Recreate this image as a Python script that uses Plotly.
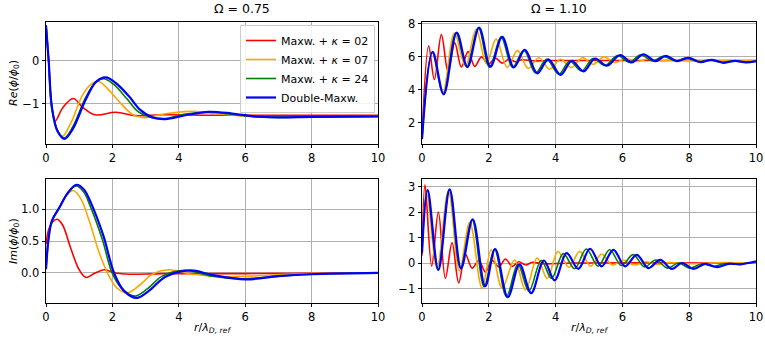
import plotly.graph_objects as go

# ---------------- DATA ----------------
series_names = ["Maxw. + <i>κ</i> = 02", "Maxw. + <i>κ</i> = 07",
                "Maxw. + <i>κ</i> = 24", "Double-Maxw."]
x_ticks = [0, 2, 4, 6, 8, 10]

# Re(phi/phi0), Omega = 0.75
re075_red_r = [0, 0.08, 0.16, 0.28, 0.5, 0.82, 1.1, 1.48, 2.1, 2.7, 3.5, 5, 7, 10]
re075_red_v = [0.82, 0.0, -1.0, -1.40, -1.1, -0.88, -1.08, -1.26, -1.2, -1.28, -1.26, -1.27, -1.27, -1.27]
re075_org_r = [0, 0.08, 0.17, 0.33, 0.50, 0.75, 1.1, 1.35, 1.58, 1.85, 2.2, 2.6, 2.95, 3.5, 4.3, 5.2, 6.2, 7, 10]
re075_org_v = [0.82, 0.0, -1.1, -1.6, -1.76, -1.45, -0.8, -0.55, -0.48, -0.65, -0.95, -1.25, -1.33, -1.25, -1.18, -1.24, -1.3, -1.31, -1.30]
re075_grn_r = [0, 0.08, 0.18, 0.35, 0.55, 0.8, 1.2, 1.5, 1.75, 2.05, 2.45, 2.8, 3.5, 4.2, 4.9, 5.6, 6.4, 7, 8, 10]
re075_grn_v = [0.82, 0.0, -1.1, -1.63, -1.80, -1.55, -0.85, -0.5, -0.42, -0.56, -0.9, -1.2, -1.35, -1.24, -1.2, -1.25, -1.31, -1.32, -1.31, -1.30]
re075_blu_r = [0, 0.08, 0.18, 0.35, 0.56, 0.8, 1.2, 1.5, 1.8, 2.1, 2.5, 2.83, 3.2, 3.6, 4.2, 4.9, 5.6, 6.3, 7, 8, 10]
re075_blu_v = [0.82, 0.0, -1.1, -1.65, -1.82, -1.6, -0.9, -0.5, -0.39, -0.52, -0.83, -1.14, -1.32, -1.36, -1.27, -1.19, -1.23, -1.3, -1.32, -1.31, -1.30]

# Im(phi/phi0), Omega = 0.75
im075_red_r = [0, 0.08, 0.2, 0.34, 0.5, 0.75, 1.0, 1.2, 1.45, 1.75, 2.1, 2.5, 3.5, 6, 10]
im075_red_v = [0.45, 0.68, 0.8, 0.84, 0.75, 0.38, 0.05, -0.07, -0.01, 0.05, 0.0, -0.02, -0.01, -0.01, 0.0]
im075_org_r = [0, 0.08, 0.18, 0.4, 0.6, 0.82, 1.05, 1.3, 1.6, 1.9, 2.15, 2.45, 2.8, 3.2, 3.7, 4.4, 5.5, 6.5, 8, 10]
im075_org_v = [0.06, 0.55, 0.82, 1.02, 1.2, 1.29, 1.16, 0.82, 0.32, -0.05, -0.24, -0.31, -0.2, -0.02, 0.05, -0.02, -0.06, -0.04, -0.01, 0.0]
im075_grn_r = [0, 0.08, 0.18, 0.4, 0.65, 0.9, 1.13, 1.33, 1.7, 2.0, 2.33, 2.68, 3.05, 3.5, 4.2, 5.0, 5.9, 7, 8, 10]
im075_grn_v = [0.06, 0.55, 0.82, 1.02, 1.24, 1.36, 1.27, 1.05, 0.52, -0.01, -0.27, -0.36, -0.25, -0.05, 0.04, -0.05, -0.09, -0.05, -0.02, 0.0]
im075_blu_r = [0, 0.08, 0.18, 0.4, 0.65, 0.92, 1.15, 1.35, 1.73, 2.05, 2.35, 2.73, 3.1, 3.6, 4.35, 5.0, 6.0, 7, 8, 10]
im075_blu_v = [0.06, 0.55, 0.82, 1.02, 1.25, 1.38, 1.3, 1.1, 0.58, 0.0, -0.28, -0.39, -0.28, -0.06, 0.04, -0.03, -0.10, -0.05, -0.02, 0.0]

# Re(phi/phi0), Omega = 1.10
re110_red_r = [0, 0.2, 0.37, 0.58, 0.78, 0.98, 1.18, 1.38, 1.58, 1.78, 1.98, 2.2, 2.4, 2.6, 2.8, 3.0, 3.3, 4, 6, 8, 10]
re110_red_v = [1.0, 6.65, 4.62, 7.35, 5.1, 6.85, 5.38, 6.32, 5.42, 6.0, 5.55, 5.92, 5.62, 5.85, 5.7, 5.82, 5.76, 5.78, 5.78, 5.78, 5.78]
re110_org_r = [0, 0.30, 0.62, 0.97, 1.30, 1.62, 1.93, 2.22, 2.55, 2.86, 3.18, 3.50, 3.82, 4.15, 4.47, 4.80, 5.12, 5.45, 5.77, 6.10, 6.42, 6.75, 7.07, 7.4, 8, 10]
re110_org_v = [1.0, 6.25, 3.8, 7.45, 5.45, 7.68, 5.6, 7.08, 5.36, 6.38, 5.3, 5.95, 5.25, 5.85, 5.35, 5.95, 5.55, 6.0, 5.65, 5.9, 5.72, 5.85, 5.75, 5.8, 5.78, 5.78]
re110_grn_r = [0, 0.31, 0.64, 1.02, 1.34, 1.69, 2.02, 2.37, 2.71, 3.05, 3.4, 3.73, 4.1, 4.42, 4.78, 5.12, 5.48, 5.85, 6.2, 6.55, 6.9, 7.23, 7.58, 7.92, 8.28, 8.62, 8.97, 9.32, 9.66, 10]
re110_grn_v = [1.0, 6.28, 3.75, 7.46, 5.4, 7.76, 5.38, 7.2, 5.36, 6.4, 5.02, 5.85, 4.95, 5.75, 5.14, 5.9, 5.48, 6.08, 5.68, 6.12, 5.76, 6.03, 5.75, 5.92, 5.7, 5.82, 5.66, 5.76, 5.68, 5.72]
re110_blu_r = [0, 0.32, 0.65, 1.04, 1.36, 1.71, 2.05, 2.40, 2.75, 3.08, 3.45, 3.78, 4.15, 4.48, 4.84, 5.18, 5.53, 5.93, 6.28, 6.63, 6.98, 7.30, 7.63, 7.98, 8.33, 8.68, 9.03, 9.38, 9.7, 10]
re110_blu_v = [1.0, 6.3, 3.72, 7.48, 5.38, 7.78, 5.4, 7.22, 5.36, 6.42, 5.0, 5.85, 4.9, 5.75, 5.12, 5.9, 5.46, 6.1, 5.66, 6.16, 5.74, 6.06, 5.74, 5.94, 5.68, 5.82, 5.64, 5.76, 5.66, 5.74]

# Im(phi/phi0), Omega = 1.10
im110_red_r = [0, 0.09, 0.29, 0.49, 0.70, 0.90, 1.10, 1.30, 1.50, 1.70, 1.90, 2.10, 2.30, 2.50, 2.70, 2.90, 3.10, 3.30, 3.6, 4.5, 10]
im110_red_v = [0.3, 3.07, -0.12, 2.0, -0.6, 0.8, -0.78, 0.35, -0.2, 0.1, -0.35, 0.1, -0.15, 0.16, -0.13, 0.05, -0.08, 0.03, -0.03, 0.0, 0.0]
im110_org_r = [0, 0.14, 0.45, 0.79, 1.12, 1.43, 1.80, 2.07, 2.40, 2.77, 3.10, 3.45, 3.75, 4.07, 4.40, 4.72, 5.05, 5.38, 5.70, 6.02, 6.35, 6.70, 7.05, 7.4, 8, 9, 10]
im110_org_v = [0.4, 2.75, -0.2, 2.85, -0.3, 1.6, -1.0, 0.52, -0.98, 0.12, -1.05, 0.2, -0.6, 0.45, -0.17, 0.45, -0.12, 0.35, -0.08, 0.12, -0.08, 0.05, -0.06, 0.02, -0.03, 0.02, 0.0]
im110_grn_r = [0, 0.16, 0.48, 0.82, 1.15, 1.50, 1.86, 2.17, 2.53, 2.87, 3.20, 3.57, 3.88, 4.23, 4.57, 4.92, 5.27, 5.62, 5.97, 6.32, 6.66, 7.0, 7.35, 7.68, 8.02, 8.38, 8.72, 9.06, 9.4, 10]
im110_grn_v = [0.4, 2.88, -0.28, 2.9, -0.2, 1.7, -0.93, 0.55, -1.32, -0.05, -1.1, 0.1, -0.6, 0.37, -0.22, 0.55, -0.12, 0.52, -0.1, 0.33, -0.15, 0.12, -0.2, 0.0, -0.2, -0.03, -0.13, -0.02, -0.05, 0.03]
im110_blu_r = [0, 0.17, 0.49, 0.83, 1.17, 1.52, 1.89, 2.19, 2.57, 2.92, 3.27, 3.65, 3.97, 4.33, 4.68, 5.03, 5.38, 5.73, 6.08, 6.43, 6.78, 7.13, 7.48, 7.78, 8.13, 8.48, 8.83, 9.18, 9.53, 10]
im110_blu_v = [0.4, 2.86, -0.27, 2.89, -0.21, 1.72, -0.91, 0.55, -1.34, -0.05, -1.18, 0.1, -0.68, 0.39, -0.23, 0.56, -0.13, 0.52, -0.13, 0.32, -0.2, 0.12, -0.23, 0.0, -0.23, -0.03, -0.16, -0.03, -0.05, 0.07]

# ---------------- FIGURE ----------------
colors = ["#ff0000", "#ffa500", "#008000", "#0000ff"]
widths = [1.6, 1.6, 1.6, 2.2]

panels = [
    ("x", "y", [(re075_red_r, re075_red_v), (re075_org_r, re075_org_v),
                (re075_grn_r, re075_grn_v), (re075_blu_r, re075_blu_v)], True),
    ("x2", "y2", [(re110_red_r, re110_red_v), (re110_org_r, re110_org_v),
                  (re110_grn_r, re110_grn_v), (re110_blu_r, re110_blu_v)], False),
    ("x3", "y3", [(im075_red_r, im075_red_v), (im075_org_r, im075_org_v),
                  (im075_grn_r, im075_grn_v), (im075_blu_r, im075_blu_v)], False),
    ("x4", "y4", [(im110_red_r, im110_red_v), (im110_org_r, im110_org_v),
                  (im110_grn_r, im110_grn_v), (im110_blu_r, im110_blu_v)], False),
]

fig = go.Figure()
for xa, ya, curves, show in panels:
    for i, (r, v) in enumerate(curves):
        fig.add_trace(go.Scatter(
            x=r, y=v, mode="lines", xaxis=xa, yaxis=ya,
            name=series_names[i], showlegend=show,
            line=dict(color=colors[i], width=widths[i], shape="spline", smoothing=1.0),
        ))

W, H = 765, 342
xl = [46 / W, 378 / W]
xr = [422 / W, 756 / W]
yt = [1 - 144 / H, 1 - 22 / H]
yb = [1 - 303 / H, 1 - 179 / H]

FONT = "DejaVu Sans"
tickfont = dict(family=FONT, size=11.5, color="black")
common = dict(showline=True, linecolor="black", linewidth=0.8, mirror=True,
              ticks="outside", ticklen=3.5, tickwidth=0.8, tickcolor="black",
              showgrid=True, gridcolor="#b0b0b0", gridwidth=0.8,
              zeroline=False, tickfont=tickfont, automargin=False,
              ticklabeloverflow="allow")

xtitle_text = "<i>r</i>/<i>λ</i><sub><i>D, ref</i></sub>"

fig.update_layout(
    width=W, height=H, margin=dict(l=0, r=0, t=0, b=0),
    paper_bgcolor="white", plot_bgcolor="white",
    font=dict(family=FONT, size=11, color="black"),
    xaxis=dict(domain=xl, anchor="y", range=[0, 10], tickvals=x_ticks, **common),
    yaxis=dict(domain=yt, anchor="x", range=[-1.94, 0.90], tickvals=[-1, 0], **common),
    xaxis2=dict(domain=xr, anchor="y2", range=[0, 10], tickvals=x_ticks, **common),
    yaxis2=dict(domain=yt, anchor="x2", range=[0.70, 8.12], tickvals=[2, 4, 6, 8], **common),
    xaxis3=dict(domain=xl, anchor="y3", range=[0, 10], tickvals=x_ticks, **common),
    yaxis3=dict(domain=yb, anchor="x3", range=[-0.47, 1.47], tickvals=[0, 0.5, 1.0],
                tickformat=".1f", **common),
    xaxis4=dict(domain=xr, anchor="y4", range=[0, 10], tickvals=x_ticks, **common),
    yaxis4=dict(domain=yb, anchor="x4", range=[-1.57, 3.30], tickvals=[-1, 0, 1, 2, 3], **common),
    legend=dict(x=375 / W, y=1 - 25 / H, xanchor="right", yanchor="top",
                bgcolor="rgba(255,255,255,0.85)", bordercolor="#cccccc", borderwidth=1,
                font=dict(family=FONT, size=11), itemwidth=30, tracegroupgap=0),
    annotations=[
        dict(text="Ω = 0.75", x=(xl[0] + xl[1]) / 2, y=1 - 9 / H, xref="paper", yref="paper",
             showarrow=False, font=dict(family=FONT, size=12.5), yanchor="middle"),
        dict(text="Ω = 1.10", x=(xr[0] + xr[1]) / 2, y=1 - 9 / H, xref="paper", yref="paper",
             showarrow=False, font=dict(family=FONT, size=12.5), yanchor="middle"),
        dict(text="<i>Re</i>(<i>ϕ</i>/<i>ϕ</i><sub>0</sub>)", x=14 / W, y=1 - 83 / H,
             xref="paper", yref="paper", showarrow=False, textangle=-90,
             xanchor="center", yanchor="middle", font=dict(family=FONT, size=11)),
        dict(text="<i>Im</i>(<i>ϕ</i>/<i>ϕ</i><sub>0</sub>)", x=14 / W, y=1 - 241 / H,
             xref="paper", yref="paper", showarrow=False, textangle=-90,
             xanchor="center", yanchor="middle", font=dict(family=FONT, size=11)),
        dict(text=xtitle_text, x=(xl[0] + xl[1]) / 2, y=1 - 328 / H, xref="paper", yref="paper",
             showarrow=False, xanchor="center", yanchor="middle", font=dict(family=FONT, size=11)),
        dict(text=xtitle_text, x=(xr[0] + xr[1]) / 2, y=1 - 328 / H, xref="paper", yref="paper",
             showarrow=False, xanchor="center", yanchor="middle", font=dict(family=FONT, size=11)),
    ],
)

fig.write_html("out.html", config={"displayModeBar": False},
               post_script="document.body.style.margin='0';document.body.style.overflow='hidden';")
